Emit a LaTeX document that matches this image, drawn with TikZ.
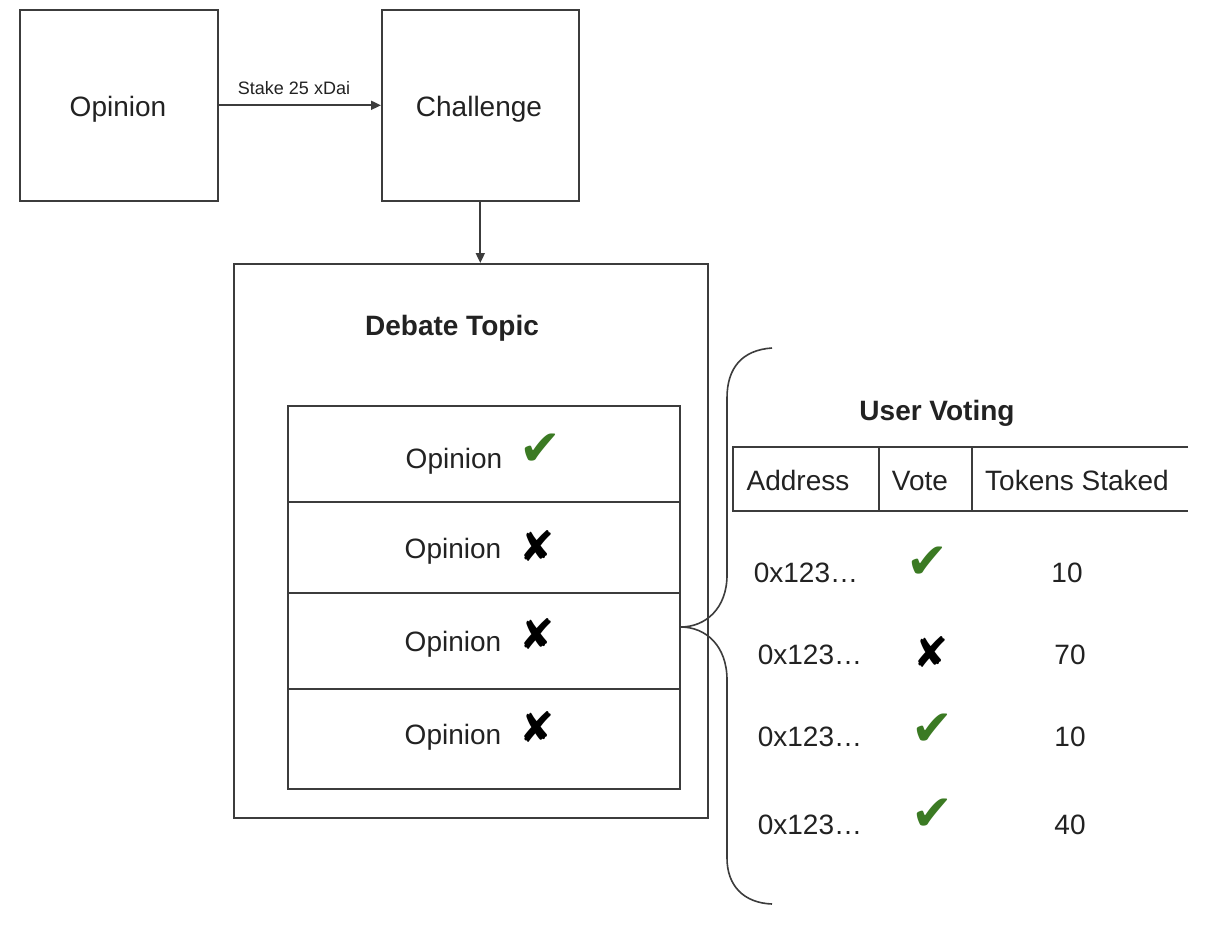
\documentclass[tikz,border=0pt]{standalone}
\usepackage{fontspec}
\setmainfont{Liberation Sans}
\newfontfamily\symfont{DejaVu Sans}
\usetikzlibrary{arrows.meta}
\definecolor{ln}{HTML}{3C3C3C}
\definecolor{tx}{HTML}{222222}
\definecolor{okgreen}{HTML}{3B7A23}
\begin{document}
\begin{tikzpicture}[x=1pt,y=-1pt,line width=1.6pt,
  box/.style={draw=ln,rectangle,inner sep=0pt,anchor=north west},
  rowbox/.style={draw=ln,rectangle,inner sep=0pt,anchor=north west,minimum width=392pt},
  lbl/.style={text=tx,font=\fontsize{28}{30}\selectfont,anchor=base,inner sep=0pt},
  lblb/.style={text=tx,font=\fontsize{28}{30}\selectfont\bfseries,anchor=base,inner sep=0pt},
  small/.style={text=tx,font=\fontsize{18}{20}\selectfont,anchor=base,inner sep=0pt},
  okmark/.style={text=okgreen,font=\symfont\fontsize{50}{52}\selectfont,anchor=center,inner sep=0pt},
  nomark/.style={text=black,font=\symfont\fontsize{42}{44}\selectfont,anchor=center,inner sep=0pt},
  arr/.style={draw=ln,line width=1.8pt,-{Triangle[length=10pt,width=9pt]}}]
\useasboundingbox (0,0) rectangle (1208,926);
\fill[white] (0,0) rectangle (1208,926);
% top boxes
\node[box,minimum width=198pt,minimum height=191pt] (op) at (19,9) {};
\node[box,minimum width=197pt,minimum height=191pt] (ch) at (381,9) {};
\node[lbl] (opt) at (118,116) {Opinion};
\node[lbl] (cht) at (479,116) {Challenge};
\draw[arr] (op.east) -- (ch.west);
\node[small] (stake) at (294,94) {Stake 25 xDai};
% debate topic
\node[box,minimum width=474pt,minimum height=554pt] (dt) at (233,263) {};
\draw[arr] (ch.south) -- (ch.south |- dt.north);
\node[lblb] (dtt) at (452,335) {Debate Topic};
\node[rowbox,minimum height=96pt] (r1) at (287,405) {};
\node[rowbox,minimum height=91pt] (r2) at (287,501) {};
\node[rowbox,minimum height=96pt] (r3) at (287,592) {};
\node[rowbox,minimum height=100pt] (r4) at (287,688) {};
\node[lbl] (o1) at (454,468) {Opinion};
\node[lbl] (o2) at (453,558) {Opinion};
\node[lbl] (o3) at (453,651) {Opinion};
\node[lbl] (o4) at (453,744) {Opinion};
\node[okmark] (m1) at (540,450) {✔};
\node[nomark] (m2) at (537,546) {✘};
\node[nomark] (m3) at (537,634) {✘};
\node[nomark] (m4) at (537,727) {✘};
% brace
\coordinate (tip) at (r3.east |- 0,627);
\draw[ln] (772,348) .. controls (742,350) and (727,368) .. (727,398) -- (727,575)
  .. controls (727,608) and (706,627) .. (tip)
  .. controls (706,627) and (727,646) .. (727,680) -- (727,858)
  .. controls (727,886) and (744,903) .. (772,904);
% user voting
\node[lblb] (uv) at (937,420) {User Voting};
\draw[ln] (1188,447) -- (733,447) -- (733,511) -- (1188,511);
\draw[ln] (879,447) -- (879,511);
\draw[ln] (972,447) -- (972,511);
\node[lbl] (h1) at (798,490) {Address};
\node[lbl] (h2) at (920,490) {Vote};
\node[lbl] (h3) at (1077,490) {Tokens Staked};
\node[lbl] (a1) at (806,582) {0x123…};
\node[lbl] (a2) at (810,664) {0x123…};
\node[lbl] (a3) at (810,746) {0x123…};
\node[lbl] (a4) at (810,834) {0x123…};
\node[okmark] (v1) at (927,563) {✔};
\node[nomark] (v2) at (931,652) {✘};
\node[okmark] (v3) at (932,730) {✔};
\node[okmark] (v4) at (932,815) {✔};
\node[lbl] (n1) at (1067,582) {10};
\node[lbl] (n2) at (1070,664) {70};
\node[lbl] (n3) at (1070,746) {10};
\node[lbl] (n4) at (1070,834) {40};
\end{tikzpicture}
\end{document}
